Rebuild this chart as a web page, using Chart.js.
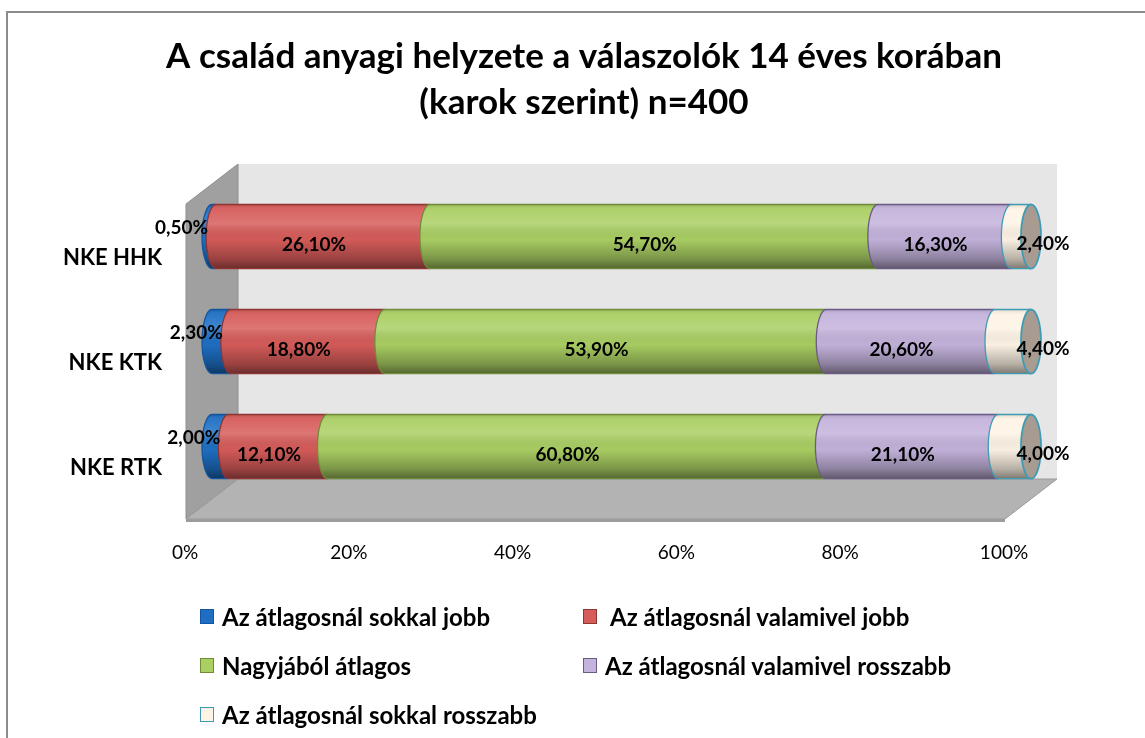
<!DOCTYPE html>
<html>
<head>
<meta charset="utf-8">
<script src="https://cdn.jsdelivr.net/npm/chart.js@4.4.1/dist/chart.umd.min.js"></script>
<style>
  html, body { margin: 0; padding: 0; background: #fff; }
  #wrap { position: relative; width: 1145px; height: 738px; overflow: hidden; }
  #frame { position: absolute; left: 6px; top: 11px; width: 1200px; height: 800px; border-left: 2px solid #8c8c8c; border-top: 2px solid #8c8c8c; box-sizing: border-box; }
  canvas { position: absolute; left: 0; top: 0; }
  #legend { position: absolute; left: 200px; top: 602px; display: grid; grid-template-columns: 383px 383px; grid-auto-rows: 49px; font-family: Lato, "Open Sans", sans-serif; font-weight: bold; font-size: 24px; color: #000; }
  .li { display: flex; align-items: center; height: 28px; white-space: pre; }
  .box { width: 14px; height: 15px; margin-right: 8px; box-sizing: border-box; border: 1.5px solid; flex: none; }
</style>
</head>
<body>
<div id="wrap">
  <div id="frame"></div>
  <canvas id="c" width="1145" height="738"></canvas>
  <div id="legend"></div>
</div>
<script>
// ---- data ----
const titleLines = ['A család anyagi helyzete a válaszolók 14 éves korában', '(karok szerint) n=400'];
const categories = ['NKE HHK', 'NKE KTK', 'NKE RTK'];
const seriesNames = ['Az átlagosnál sokkal jobb', ' Az átlagosnál valamivel jobb', 'Nagyjából átlagos', 'Az átlagosnál valamivel rosszabb', 'Az átlagosnál sokkal rosszabb'];
const sokkalJobb = [0.5, 2.3, 2.0];
const valamivelJobb = [26.1, 18.8, 12.1];
const nagyjabolAtlagos = [54.7, 53.9, 60.8];
const valamivelRosszabb = [16.3, 20.6, 21.1];
const sokkalRosszabb = [2.4, 4.4, 4.0];
const xTickValues = [0, 20, 40, 60, 80, 100];

// ---- styles ----
const fills = ['#1E6FC4', '#D65C5A', '#AACF63', '#C4B3DC', '#FEF4E6'];
const edges = ['#11569e', '#8f3533', '#6f8c3a', '#6a5a86', '#3f9bb3'];
const FONT = 'Lato, "Open Sans", sans-serif';

function fmt(v) { return v.toFixed(2).replace('.', ',') + '%'; }

const seriesValues = [sokkalJobb, valamivelJobb, nagyjabolAtlagos, valamivelRosszabb, sokkalRosszabb];

// legend (HTML, from series names)
const legendEl = document.getElementById('legend');
seriesNames.forEach((name, i) => {
  const d = document.createElement('div');
  d.className = 'li';
  const b = document.createElement('span');
  b.className = 'box';
  b.style.background = fills[i];
  b.style.borderColor = edges[i];
  d.appendChild(b);
  d.appendChild(document.createTextNode(name));
  legendEl.appendChild(d);
});

const DX = 26, DY = 20, RX = 10;

const titlePlugin = {
  id: 'centredTitle',
  afterDraw(chart) {
    const ctx = chart.ctx;
    ctx.save();
    ctx.font = 'bold 35px ' + FONT;
    ctx.fillStyle = '#000';
    ctx.textAlign = 'center';
    ctx.textBaseline = 'middle';
    titleLines.forEach((t, i) => ctx.fillText(t, 584, 57 + i * 46));
    ctx.restore();
  }
};

const wallsPlugin = {
  id: 'walls',
  beforeDatasetsDraw(chart) {
    const { ctx, chartArea: a } = chart;
    const fl = a.left - DX, fr = a.right - DX, fb = a.bottom + DY, ft = a.top + DY;
    const bl = a.left + DX, br = a.right + DX, bt = a.top - DY, bb = a.bottom - DY;
    ctx.save();
    ctx.fillStyle = '#e6e6e6';
    ctx.fillRect(bl, bt, br - bl, bb - bt);
    ctx.beginPath();
    ctx.moveTo(fl, ft); ctx.lineTo(bl, bt); ctx.lineTo(bl, bb); ctx.lineTo(fl, fb); ctx.closePath();
    ctx.fillStyle = '#a0a0a0'; ctx.fill();
    ctx.strokeStyle = '#8e8e8e'; ctx.lineWidth = 1; ctx.stroke();
    ctx.beginPath();
    ctx.moveTo(fl, fb); ctx.lineTo(bl, bb); ctx.lineTo(br, bb); ctx.lineTo(fr, fb); ctx.closePath();
    ctx.fillStyle = '#b3b3b3'; ctx.fill();
    ctx.strokeStyle = '#9a9a9a'; ctx.stroke();
    ctx.fillStyle = '#9c9c9c';
    ctx.fillRect(fl, fb, fr - fl, 3);
    ctx.restore();
  }
};

function shade(ctx, top, bot) {
  const g = ctx.createLinearGradient(0, top, 0, bot);
  g.addColorStop(0, 'rgba(0,0,0,0.12)');
  g.addColorStop(0.08, 'rgba(255,255,255,0.05)');
  g.addColorStop(0.3, 'rgba(255,255,255,0.16)');
  g.addColorStop(0.55, 'rgba(0,0,0,0.02)');
  g.addColorStop(0.85, 'rgba(0,0,0,0.28)');
  g.addColorStop(1, 'rgba(0,0,0,0.5)');
  return g;
}

const cylinderPlugin = {
  id: 'cylinders',
  afterDatasetsDraw(chart) {
    const ctx = chart.ctx;
    const n = chart.data.datasets.length;
    ctx.save();
    for (let di = 0; di < n; di++) {
      const meta = chart.getDatasetMeta(di);
      meta.data.forEach(bar => {
        const p = bar.getProps(['x', 'y', 'base', 'height'], true);
        const h = p.height, top = p.y - h / 2, bot = p.y + h / 2;
        const left = Math.min(p.base, p.x), right = Math.max(p.base, p.x);
        ctx.beginPath();
        ctx.moveTo(right, top);
        ctx.lineTo(left, top);
        ctx.ellipse(left, p.y, RX, h / 2, 0, -Math.PI / 2, Math.PI / 2, true);
        ctx.lineTo(right, bot);
        ctx.closePath();
        ctx.fillStyle = fills[di]; ctx.fill();
        ctx.fillStyle = shade(ctx, top, bot); ctx.fill();
        ctx.beginPath();
        ctx.moveTo(right, top); ctx.lineTo(left, top);
        ctx.ellipse(left, p.y, RX, h / 2, 0, -Math.PI / 2, Math.PI / 2, true);
        ctx.lineTo(right, bot);
        ctx.strokeStyle = edges[di]; ctx.lineWidth = 1.3; ctx.stroke();
        if (di === n - 1) {
          ctx.beginPath();
          ctx.ellipse(right, p.y, RX, h / 2, 0, 0, Math.PI * 2);
          ctx.fillStyle = '#a79b92'; ctx.fill();
          ctx.strokeStyle = edges[di]; ctx.lineWidth = 1.8; ctx.stroke();
        }
      });
    }
    ctx.restore();
  }
};

const labelPlugin = {
  id: 'valueLabels',
  afterDatasetsDraw(chart) {
    const ctx = chart.ctx;
    const n = chart.data.datasets.length;
    ctx.save();
    ctx.font = 'bold 19px ' + FONT;
    ctx.fillStyle = '#000';
    ctx.textBaseline = 'middle';
    for (let di = 0; di < n; di++) {
      const meta = chart.getDatasetMeta(di);
      meta.data.forEach((bar, i) => {
        const p = bar.getProps(['x', 'y', 'base'], true);
        const v = chart.data.datasets[di].data[i];
        const txt = fmt(v);
        if (di === 0) {
          ctx.textAlign = 'right';
          ctx.fillText(txt, p.x - 8, p.y - 9);
        } else if (di === n - 1) {
          ctx.textAlign = 'center';
          ctx.fillText(txt, p.x + 12, p.y + 7);
        } else {
          ctx.textAlign = 'center';
          ctx.fillText(txt, (p.x + p.base) / 2 - 9, p.y + 8);
        }
      });
    }
    ctx.restore();
  }
};

new Chart(document.getElementById('c'), {
  type: 'bar',
  data: {
    labels: categories,
    datasets: seriesNames.map((name, i) => ({
      label: name,
      data: seriesValues[i],
      backgroundColor: fills[i],
      borderColor: edges[i],
      borderWidth: 0,
      categoryPercentage: 1,
      barPercentage: 0.61
    }))
  },
  options: {
    indexAxis: 'y',
    responsive: false,
    animation: false,
    devicePixelRatio: 1,
    layout: { padding: { left: 0, right: 114, top: 184, bottom: 159 } },
    plugins: {
      legend: { display: false },
      tooltip: { enabled: false },
      title: { display: false }
    },
    scales: {
      x: {
        stacked: true,
        min: 0, max: 100,
        afterBuildTicks: s => { s.ticks = xTickValues.map(v => ({ value: v })); },
        afterFit: s => { s.height = 80; },
        grid: { display: false, drawTicks: false },
        border: { display: false },
        ticks: {
          callback: v => v + '%',
          color: '#000',
          font: { family: FONT, size: 19 },
          labelOffset: -27,
          padding: 42,
          maxRotation: 0,
          autoSkip: false
        }
      },
      y: {
        stacked: true,
        afterFit: s => { s.width = 212; },
        grid: { display: false, drawTicks: false },
        border: { display: false },
        ticks: {
          color: '#000',
          font: { family: FONT, size: 22, weight: 'bold' },
          labelOffset: 21,
          padding: 50
        }
      }
    }
  },
  plugins: [wallsPlugin, cylinderPlugin, labelPlugin, titlePlugin]
});
</script>
</body>
</html>
